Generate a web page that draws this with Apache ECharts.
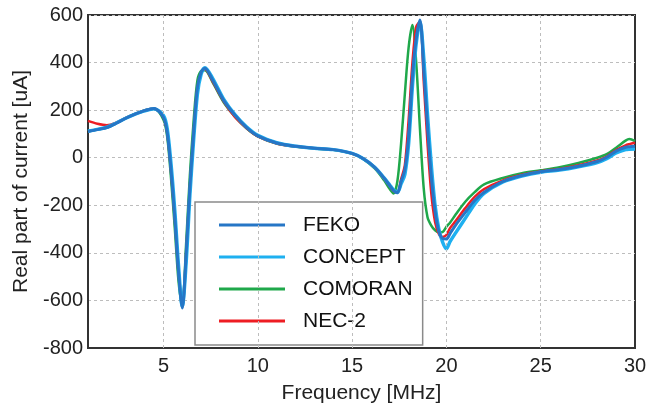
<!DOCTYPE html>
<html>
<head>
<meta charset="utf-8">
<script src="https://cdn.jsdelivr.net/npm/echarts@6/dist/echarts.min.js"></script>
<style>
  html, body { margin: 0; padding: 0; background: #fff; }
  #chart { width: 660px; height: 411px; }
</style>
</head>
<body>
<div id="chart"></div>
<script>
// Frequency samples [MHz], shared by all solvers
const freq = [1, 1.5, 2, 2.5, 3, 3.5, 4, 4.5,
  5, 5.2, 5.4, 5.6, 5.8, 6.0, 6.2, 6.4, 6.6, 6.8, 7.0, 7.2,
  7.6, 8.2, 8.8, 9.4, 10,
  11, 12, 13, 14, 15,
  15.6, 16.2, 16.7,
  17.0, 17.2, 17.4, 17.6, 17.8, 18.0, 18.2, 18.4, 18.6, 18.8, 19.0, 19.2, 19.4, 19.6, 19.8, 20.0, 20.2,
  20.5, 21, 21.5, 22,
  23, 24, 25, 26, 27, 28,
  28.5, 29, 29.5, 29.7, 30];

// Real part of current [uA] per solver
const feko = [110, 118, 127, 145, 166, 183, 198, 207,
  170, 106, -50, -250, -480, -632, -410, -125, 105, 295, 360, 376,
  328, 240, 178, 128, 92,
  62, 48, 40, 34, 18,
  -4, -40, -86,
  -118, -138, -147, -100, -50, 90, 341, 500, 579, 370, 130, -80, -225, -310, -340, -342, -318,
  -282, -230, -180, -145,
  -100, -75, -59, -50, -36, -16,
  2, 28, 44, 46, 48];

const concept = [112, 119, 128, 146, 166, 183, 197, 206,
  178, 122, -25, -220, -455, -625, -445, -160, 75, 268, 352, 378,
  335, 245, 180, 130, 94,
  63, 48, 40, 34, 18,
  -4, -40, -85,
  -115, -135, -146, -110, -70, 60, 300, 480, 572, 420, 180, -30, -200, -300, -355, -383, -352,
  -315, -255, -195, -150,
  -102, -77, -61, -52, -38, -20,
  -4, 20, 34, 36, 37];

const comoran = [110, 118, 127, 145, 166, 184, 199, 206,
  160, 88, -85, -295, -520, -622, -365, -75, 155, 325, 365, 368,
  318, 232, 172, 124, 90,
  60, 47, 39, 33, 17,
  -6, -45, -95,
  -132, -150, -100, 60, 270, 465, 558, 400, 120, -130, -250, -285, -305, -313, -312, -290, -272,
  -238, -185, -145, -112,
  -85, -65, -53, -40, -22, 0,
  15, 42, 72, 79, 70];

const nec2 = [155, 143, 137, 148, 167, 184, 199, 207,
  170, 104, -55, -255, -485, -628, -405, -125, 105, 295, 358, 372,
  322, 236, 170, 125, 90,
  60, 47, 40, 34, 18,
  -4, -42, -88,
  -120, -140, -146, -90, -30, 160, 400, 550, 572, 320, 60, -150, -270, -320, -333, -325, -295,
  -265, -212, -165, -132,
  -95, -72, -57, -47, -32, -12,
  5, 32, 52, 57, 63];

// Axis ticks
const xTicks = [5, 10, 15, 20, 25, 30];
const xGrid = [5, 10, 15, 20, 25];

const seriesNames = ['FEKO', 'CONCEPT', 'COMORAN', 'NEC-2'];

const pairs = (ys) => freq.map((f, i) => [f, ys[i]]);

const FONT = 'Liberation Sans, Arial, Helvetica, sans-serif';
const gridLine = { color: '#bdbdbd', width: 1, type: [3, 3] };

const chart = echarts.init(document.getElementById('chart'), null, { renderer: 'canvas' });

chart.setOption({
  animation: false,
  backgroundColor: '#fff',
  grid: {
    left: 88, top: 15, right: 25, bottom: 63,
    show: true, borderColor: '#333', borderWidth: 2, backgroundColor: 'transparent'
  },
  legend: {
    data: seriesNames,
    orient: 'vertical',
    left: 195, top: 202,
    icon: 'rect',
    itemWidth: 66, itemHeight: 3,
    itemGap: 8,
    padding: [11, 10, 12, 24],
    backgroundColor: '#fff',
    borderColor: '#8a8a8a', borderWidth: 1.5,
    textStyle: { fontFamily: FONT, fontSize: 21, color: '#111', lineHeight: 24, padding: [0, 0, 0, 13] }
  },
  xAxis: {
    type: 'value', min: 1, max: 30,
    name: 'Frequency [MHz]', nameLocation: 'middle', nameGap: 35,
    nameTextStyle: { fontFamily: FONT, fontSize: 21, color: '#222' },
    axisLine: { onZero: false, lineStyle: { color: '#333', width: 2 } },
    axisTick: { show: false },
    axisLabel: { customValues: xTicks, fontFamily: FONT, fontSize: 20, color: '#222', margin: 8 },
    splitLine: { show: false }
  },
  yAxis: {
    type: 'value', min: -800, max: 600, interval: 200,
    name: 'Real part of current [uA]', nameLocation: 'middle', nameGap: 50,
    nameTextStyle: { fontFamily: FONT, fontSize: 21, color: '#222' },
    axisLine: { show: true, onZero: false, lineStyle: { color: '#333', width: 2 } },
    axisTick: { show: false },
    axisLabel: { fontFamily: FONT, fontSize: 20, color: '#222', margin: 5 },
    splitLine: { show: true, lineStyle: gridLine }
  },
  series: [
    {
      // vertical grid lines at the frequency ticks
      type: 'line', data: [], silent: true, z: 1,
      markLine: {
        silent: true, symbol: 'none', label: { show: false },
        lineStyle: gridLine,
        data: xGrid.map(v => ({ xAxis: v }))
      }
    },
    { name: 'COMORAN', type: 'line', data: pairs(comoran), smooth: 0.3, showSymbol: false, z: 2,
      color: '#1fa84a', lineStyle: { width: 2.5 } },
    { name: 'NEC-2', type: 'line', data: pairs(nec2), smooth: 0.3, showSymbol: false, z: 3,
      color: '#ee1d23', lineStyle: { width: 2.5 } },
    { name: 'CONCEPT', type: 'line', data: pairs(concept), smooth: 0.3, showSymbol: false, z: 4,
      color: '#1eb0f0', lineStyle: { width: 3.5 } },
    { name: 'FEKO', type: 'line', data: pairs(feko), smooth: 0.3, showSymbol: false, z: 5,
      color: '#2676c6', lineStyle: { width: 3 } }
  ]
});
</script>
</body>
</html>
